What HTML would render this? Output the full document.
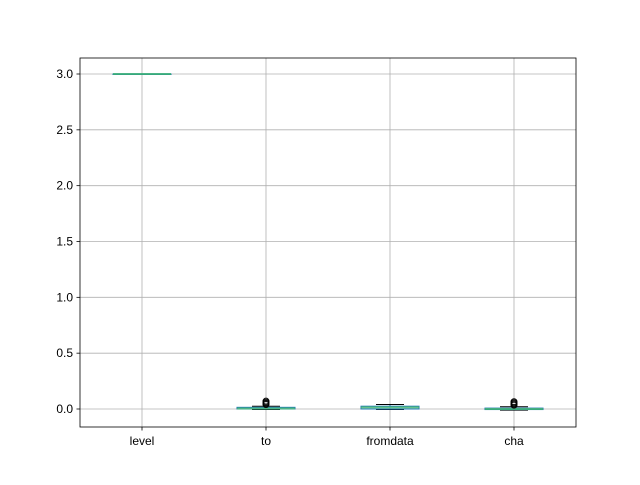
<!DOCTYPE html>
<html><head><meta charset="utf-8"><style>
body{margin:0;background:#fff}
svg text{font-family:"Liberation Sans","DejaVu Sans",sans-serif;font-size:12px;fill:#000}
</style></head><body>
<svg id="chart" width="640" height="480"></svg>
<script>
const categories=["level","to","fromdata","cha"];
const q1Values=[3.0,0.0,0.0,-0.005];
const medianValues=[3.0,0.005,0.015,0.0];
const q3Values=[3.0,0.015,0.025,0.008];
const lowWhisker=[3.0,-0.005,-0.005,-0.01];
const highWhisker=[3.0,0.025,0.04,0.02];
const fliers=[[],[0.04,0.05,0.06,0.07],[],[0.035,0.045,0.055,0.065]];
const yTicks=[0.0,0.5,1.0,1.5,2.0,2.5,3.0];
const yTickLabels=["0.0","0.5","1.0","1.5","2.0","2.5","3.0"];

const L=80,R=576,T=58,B=427;
const y=v=>409-(v-0)*(409-74)/3;
const step=(R-L)/categories.length;
const x=i=>L+step*(i+0.5);
const NS="http://www.w3.org/2000/svg";
const svg=document.getElementById('chart');
function mk(t,a,p){const e=document.createElementNS(NS,t);for(const k in a)e.setAttribute(k,a[k]);(p||svg).appendChild(e);return e;}

const grid=mk('g',{});


yTicks.forEach((v,i)=>{
  mk('line',{x1:L,x2:R,y1:y(v),y2:y(v),stroke:'#b0b0b0','stroke-width':0.8},grid);
  mk('line',{x1:L-3.5,x2:L,y1:y(v),y2:y(v),stroke:'#000','stroke-width':0.8});
  const t=mk('text',{x:L-7,y:y(v)+4,'text-anchor':'end'});
  t.textContent=yTickLabels[i];
  
  
});
categories.forEach((c,i)=>{
  mk('line',{x1:x(i),x2:x(i),y1:T,y2:B,stroke:'#b0b0b0','stroke-width':0.8},grid);
  mk('line',{x1:x(i),x2:x(i),y1:B,y2:B+3.5,stroke:'#000','stroke-width':0.8});
  const t=mk('text',{x:x(i),y:B+18,'text-anchor':'middle'});
  t.textContent=c;
  
  
});
const bw=58;
categories.forEach((c,i)=>{
  const g=mk('g',{});
  
  
  const cx=x(i);
  mk('line',{x1:cx,x2:cx,y1:y(q3Values[i]),y2:y(highWhisker[i]),stroke:'#1f77b4','stroke-width':1},g);
  mk('line',{x1:cx,x2:cx,y1:y(q1Values[i]),y2:y(lowWhisker[i]),stroke:'#1f77b4','stroke-width':1},g);
  mk('line',{x1:cx-14,x2:cx+14,y1:y(highWhisker[i]),y2:y(highWhisker[i]),stroke:'#000','stroke-width':1},g);
  mk('line',{x1:cx-14,x2:cx+14,y1:y(lowWhisker[i]),y2:y(lowWhisker[i]),stroke:'#000','stroke-width':1},g);
  const top=y(q3Values[i]),bot=y(q1Values[i]);
  mk('rect',{x:cx-bw/2,y:top,width:bw,height:Math.max(bot-top,0.5),fill:'none',stroke:'#1f77b4','stroke-width':1},g);
  mk('line',{x1:cx-bw/2,x2:cx+bw/2,y1:y(medianValues[i]),y2:y(medianValues[i]),stroke:'#3cb371','stroke-width':2,'stroke-opacity':0.8},g);
  fliers[i].forEach(f=>mk('circle',{cx:cx,cy:y(f),r:3,fill:'none',stroke:'#000','stroke-width':1},g));
});
const frame=mk('rect',{x:L,y:T,width:R-L,height:B-T,fill:'none',stroke:'#000','stroke-width':0.8});


</script>
</body></html>
